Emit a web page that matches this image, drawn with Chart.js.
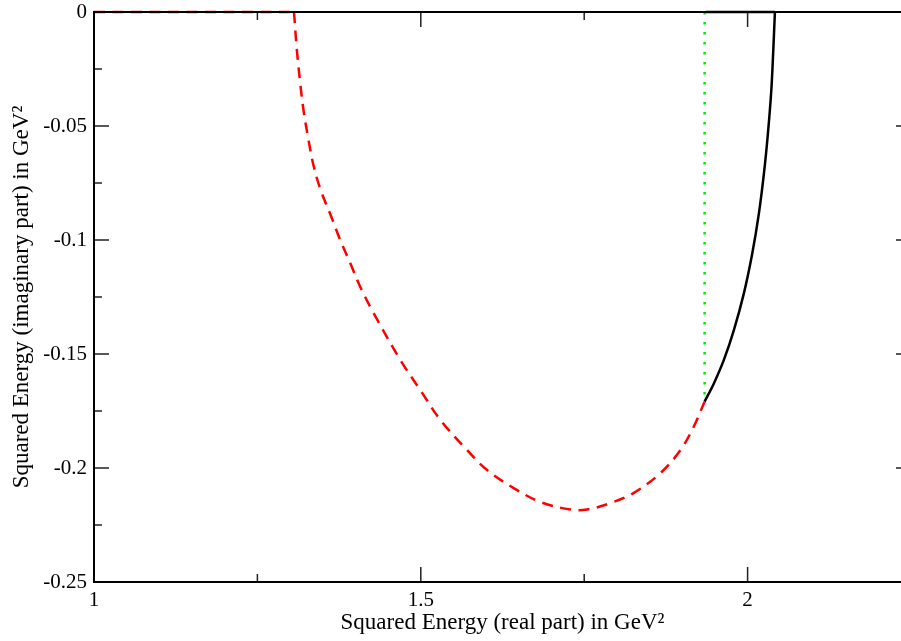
<!DOCTYPE html>
<html>
<head>
<meta charset="utf-8">
<script src="https://cdn.jsdelivr.net/npm/chart.js@4.4.1/dist/chart.umd.min.js"></script>
<style>
    html, body { margin: 0; padding: 0; background: #fff; overflow: hidden; }
    #wrap { width: 901px; height: 641px; overflow: hidden; }
    canvas { display: block; }
</style>
</head>
<body>
<div id="wrap"><canvas id="chart" width="920" height="641"></canvas></div>
<script>
// --- DATA ---
const xMajor = [1, 1.5, 2];
const xMinor = [1.25, 1.75, 2.25];
const xLabels = ['1', '1.5', '2'];

const yMajor = [0, -0.05, -0.1, -0.15, -0.2, -0.25];
const yMinor = [-0.025, -0.075, -0.125, -0.175, -0.225];
const yLabels = ['0', '-0.05', '-0.1', '-0.15', '-0.2', '-0.25'];

// red dashed: flat part on the real axis, then the arc
const redFlatX = [1.0, 1.306];
const redFlatY = [0, 0];
const redX = [1.306, 1.3104, 1.3155, 1.3205, 1.3282, 1.3358, 1.3461, 1.364, 1.3767, 1.392, 1.4074, 1.4277,
    1.4686, 1.4992, 1.5299, 1.5707, 1.6014, 1.6421, 1.683, 1.7289, 1.7545, 1.7901, 1.8254, 1.8668, 1.8974,
    1.9173, 1.9342];
const redY = [0, -0.0167, -0.0311, -0.043, -0.0561, -0.0672, -0.0775, -0.0905, -0.1, -0.1101, -0.1206, -0.132,
    -0.1526, -0.1658, -0.1789, -0.1921, -0.2009, -0.2088, -0.2149, -0.2182, -0.2182, -0.2154, -0.211, -0.2022, -0.1921,
    -0.182, -0.1709];

// black solid: arc, then back along the real axis
const blackX = [1.9342, 1.9484, 1.9637, 1.979, 1.9943, 2.0072, 2.0173, 2.025, 2.0311, 2.0363, 2.0393, 2.0418];
const blackY = [-0.1709, -0.1629, -0.1526, -0.1395, -0.1234, -0.1058, -0.0883, -0.0708, -0.0532, -0.0342, -0.0167, 0];
const blackFlatX = [2.0418, 1.9357];
const blackFlatY = [0, 0];

// green dotted line
const greenX = [1.9342, 1.9342];
const greenY = [0, -0.1695];

const xTitle = 'Squared Energy (real part) in GeV²';
const yTitle = 'Squared Energy (imaginary part) in GeV²';

const serif = "'Liberation Serif', 'Times New Roman', serif";

const toPoints = (xs, ys) => xs.map((x, i) => ({ x: x, y: ys[i] }));

const line = (xs, ys, color, dash, tension) => ({
    data: toPoints(xs, ys),
    showLine: true, borderColor: color, borderWidth: 2.5, borderDash: dash,
    pointRadius: 0, tension: tension, clip: 6
});

// inward ticks on all four sides + frame
const framePlugin = {
    id: 'frame',
    afterDatasetsDraw(chart) {
        const { ctx, chartArea: a, scales } = chart;
        const sx = scales.x, sy = scales.y;
        ctx.save();
        ctx.strokeStyle = '#222';
        ctx.lineWidth = 1.5;
        ctx.beginPath();
        const xt = (vals, len) => vals.forEach(v => {
            const p = sx.getPixelForValue(v);
            ctx.moveTo(p, a.bottom); ctx.lineTo(p, a.bottom - len);
            ctx.moveTo(p, a.top); ctx.lineTo(p, a.top + len);
        });
        const yt = (vals, len) => vals.forEach(v => {
            const p = sy.getPixelForValue(v);
            ctx.moveTo(a.left, p); ctx.lineTo(a.left + len, p);
            ctx.moveTo(a.right, p); ctx.lineTo(a.right - len, p);
        });
        xt(xMajor, 15); xt(xMinor, 8);
        yt(yMajor, 15); yt(yMinor, 8);
        ctx.stroke();

        ctx.strokeStyle = '#000';
        ctx.lineWidth = 2;
        ctx.strokeRect(a.left, a.top, a.right - a.left, a.bottom - a.top);
        ctx.restore();
    }
};

new Chart(document.getElementById('chart'), {
    type: 'scatter',
    data: {
        datasets: [
            line(blackX, blackY, '#000', [], 0.35),
            line(blackFlatX, blackFlatY, '#000', [], 0),
            line(greenX, greenY, '#00ee00', [2.5, 7.5], 0),
            line(redX, redY, '#ff0000', [11, 7.5], 0.35),
            line(redFlatX, redFlatY, '#ff0000', [11, 7.5], 0)
        ]
    },
    options: {
        responsive: false,
        animation: false,
        layout: { padding: { top: 12, right: 9, left: 0, bottom: 0 } },
        plugins: { legend: { display: false }, tooltip: { enabled: false } },
        scales: {
            x: {
                type: 'linear', min: 1, max: 2.25,
                grid: { display: false, drawTicks: false },
                border: { display: false },
                afterBuildTicks: s => { s.ticks = xMajor.map(v => ({ value: v })); },
                afterFit: s => { s.height = 59; s.paddingLeft = 0; s.paddingRight = 0; },
                ticks: {
                    color: '#000', padding: 6, maxRotation: 0, autoSkip: false,
                    font: { family: serif, size: 21 },
                    callback: (v, i) => xLabels[i]
                },
                title: {
                    display: true, text: xTitle, color: '#000',
                    font: { family: serif, size: 23 },
                    padding: { top: 0, bottom: 4 }
                }
            },
            y: {
                type: 'linear', min: -0.25, max: 0,
                grid: { display: false, drawTicks: false },
                border: { display: false },
                afterBuildTicks: s => { s.ticks = yMajor.map(v => ({ value: v })); },
                afterFit: s => { s.width = 94; s.paddingTop = 0; s.paddingBottom = 0; },
                ticks: {
                    color: '#000', padding: 7, autoSkip: false,
                    font: { family: serif, size: 21 },
                    callback: (v, i) => yLabels[i]
                },
                title: {
                    display: true, text: yTitle, color: '#000',
                    font: { family: serif, size: 23 },
                    padding: { top: 8, bottom: 0 }
                }
            }
        }
    },
    plugins: [framePlugin]
});
</script>
</body>
</html>
